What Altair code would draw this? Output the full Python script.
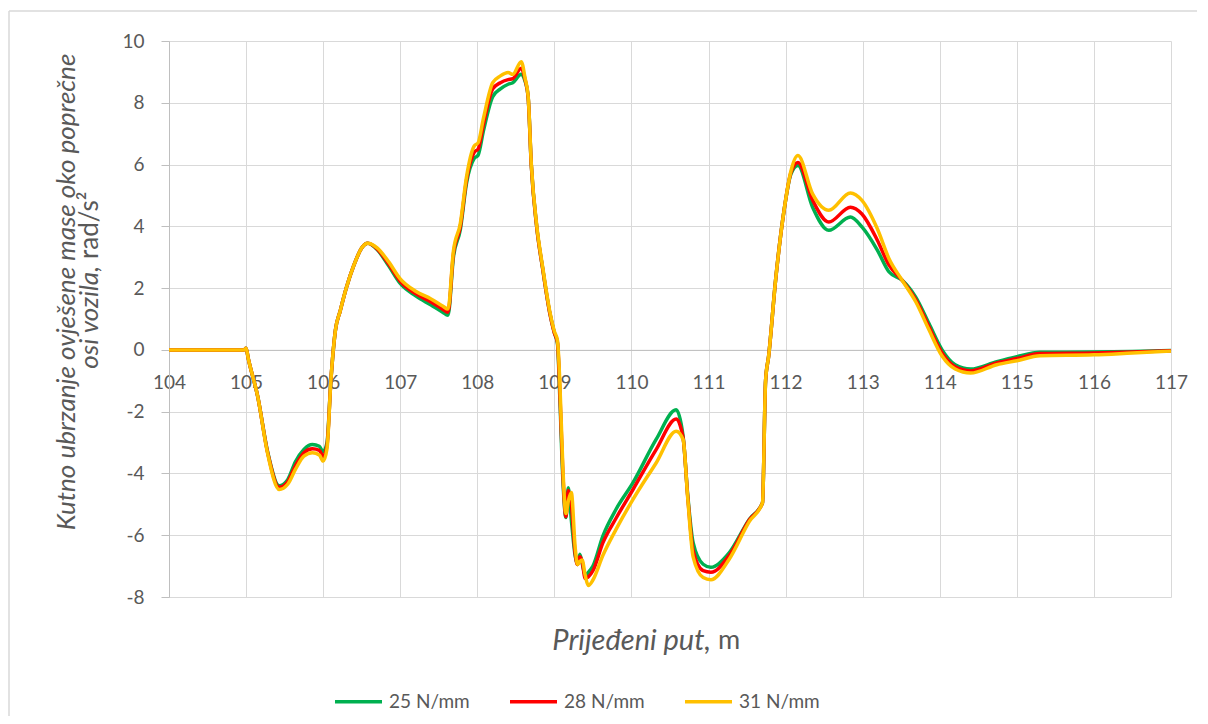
import altair as alt
import pandas as pd

# Prijeđeni put (m)
X = [104, 104.97, 105.0, 105.03, 105.15, 105.28, 105.43, 105.54, 105.64, 105.75, 105.86,
     105.95, 106.0, 106.05, 106.1, 106.16, 106.22, 106.3, 106.4, 106.5, 106.58,
     106.7, 106.85, 107.0, 107.2, 107.4, 107.55, 107.62, 107.69, 107.78, 107.86,
     107.96, 108.01, 108.08, 108.2, 108.3, 108.4, 108.46, 108.57, 108.62, 108.66,
     108.7, 108.77, 108.85, 108.94, 109.0, 109.04, 109.07, 109.11, 109.15, 109.18,
     109.22, 109.27, 109.3, 109.33, 109.36, 109.4, 109.44, 109.5, 109.63, 109.8,
     110.02, 110.32, 110.58, 110.67, 110.73, 110.8, 110.93, 111.03, 111.27, 111.53,
     111.7, 111.74, 111.78, 111.87, 111.98, 112.07, 112.16, 112.35, 112.56, 112.84,
     112.99, 113.19, 113.34, 113.51, 113.69, 113.86, 114.03, 114.2, 114.4, 114.74,
     115.0, 115.3, 116.0, 116.5, 117.0]

S25 = [0, 0, 0.05, -0.3, -1.5, -3.3, -4.4, -4.2, -3.62, -3.22, -3.06,
       -3.12, -3.3, -3.0, -1.0, 0.65, 1.25, 2.0, 2.75, 3.3, 3.45,
       3.25, 2.72, 2.15, 1.75, 1.45, 1.22, 1.12, 3.0, 3.9, 5.4,
       6.2, 6.3, 7.1, 8.2, 8.45, 8.6, 8.65, 8.92, 8.7, 8.17,
       6.0, 4.0, 2.6, 1.2, 0.55, 0.2, -1.5, -4.2, -5.43, -4.46,
       -5.5, -6.67, -6.95, -6.62, -6.9, -7.3, -7.2, -7.0, -6.02, -5.16,
       -4.3, -2.9, -1.94, -2.8, -4.7, -6.24, -6.94, -7.04, -6.56, -5.48,
       -4.95, -1.0, -0.2, 2.26, 4.52, 5.7, 5.97, 4.62, 3.87, 4.3,
       3.98, 3.23, 2.53, 2.26, 1.7, 0.85, 0.0, -0.48, -0.62, -0.38,
       -0.22, -0.08, -0.07, -0.05, -0.02]

S28 = [0, 0, 0.05, -0.3, -1.5, -3.33, -4.45, -4.27, -3.75, -3.33, -3.2,
       -3.25, -3.45, -3.1, -1.0, 0.65, 1.25, 2.0, 2.75, 3.3, 3.45,
       3.27, 2.78, 2.22, 1.82, 1.55, 1.32, 1.22, 3.1, 4.0, 5.5,
       6.4, 6.5, 7.3, 8.45, 8.65, 8.75, 8.78, 9.12, 8.75, 8.17,
       6.0, 4.0, 2.6, 1.2, 0.55, 0.25, -1.3, -4.0, -5.4, -4.55,
       -5.0, -6.6, -6.95, -6.7, -6.85, -7.4, -7.35, -7.15, -6.24, -5.45,
       -4.52, -3.23, -2.24, -2.85, -4.75, -6.5, -7.15, -7.2, -6.65, -5.5,
       -4.95, -1.0, -0.2, 2.26, 4.52, 5.75, 6.07, 4.85, 4.14, 4.62,
       4.4, 3.55, 2.75, 2.26, 1.62, 0.75, -0.1, -0.55, -0.68, -0.42,
       -0.28, -0.12, -0.1, -0.07, -0.03]

S31 = [0, 0, 0.05, -0.3, -1.5, -3.36, -4.52, -4.35, -3.87, -3.44, -3.33,
       -3.4, -3.6, -3.2, -1.0, 0.65, 1.25, 2.0, 2.75, 3.3, 3.45,
       3.3, 2.85, 2.3, 1.9, 1.65, 1.42, 1.32, 3.2, 4.1, 5.6,
       6.6, 6.7, 7.5, 8.65, 8.87, 8.98, 8.92, 9.33, 8.8, 8.2,
       6.05, 4.05, 2.65, 1.25, 0.6, 0.3, -1.0, -3.8, -5.3, -4.9,
       -4.62, -6.4, -6.95, -6.85, -6.8, -7.3, -7.63, -7.45, -6.65, -5.81,
       -4.84, -3.66, -2.63, -2.9, -4.8, -6.7, -7.37, -7.44, -6.77, -5.55,
       -4.95, -1.0, -0.2, 2.26, 4.52, 5.8, 6.29, 5.05, 4.52, 5.08,
       4.84, 3.92, 2.96, 2.26, 1.55, 0.65, -0.2, -0.62, -0.75, -0.48,
       -0.35, -0.19, -0.16, -0.1, -0.04]

SERIES = ["25 N/mm", "28 N/mm", "31 N/mm"]
COLORS = ["#00B050", "#FF0000", "#FFC000"]
X_TICKS = list(range(104, 118))
Y_TICKS = list(range(-8, 11, 2))

rows = []
for name, ys in zip(SERIES, [S25, S28, S31]):
    for xv, yv in zip(X, ys):
        rows.append({"put": xv, "ubrzanje": yv, "serija": name})
df = pd.DataFrame(rows)

FONT = "Lato"
TXT = "#595959"
GRID = "#D9D9D9"
AXIS = "#BFBFBF"

W, H = 1002, 556
PAD = {"left": 161, "top": 33, "right": 29, "bottom": 119}
ZERO_OFFSET = -(H * 8 / 18)

lines = alt.Chart(df).mark_line(strokeWidth=3.5, interpolate="monotone").encode(
    x=alt.X("put:Q",
            scale=alt.Scale(domain=[104, 117], nice=False, zero=False),
            axis=alt.Axis(values=X_TICKS, title=None, offset=ZERO_OFFSET,
                          labelExpr="'' + datum.value",
                          domain=True, domainColor=AXIS, domainWidth=1,
                          ticks=False, tickSize=0, labelPadding=24,
                          labelFlush=False, labelOverlap=False, labelBound=False,
                          grid=True, gridColor=GRID, gridWidth=1,
                          labelFontSize=19, labelColor=TXT, labelFont=FONT, zindex=0)),
    y=alt.Y("ubrzanje:Q",
            scale=alt.Scale(domain=[-8, 10], nice=False),
            axis=alt.Axis(values=Y_TICKS, title=None,
                          labelExpr="'' + datum.value",
                          domain=True, domainColor=AXIS, domainWidth=1,
                          ticks=True, tickColor=AXIS, tickSize=8, labelPadding=17,
                          grid=True, gridColor=GRID, gridWidth=1,
                          labelFontSize=19, labelColor=TXT, labelFont=FONT, zindex=0)),
    color=alt.Color("serija:N",
                    scale=alt.Scale(domain=SERIES, range=COLORS),
                    legend=alt.Legend(title=None, orient="none", legendX=164, legendY=635,
                                      direction="horizontal", symbolType="stroke",
                                      symbolSize=2209, symbolStrokeWidth=3.5,
                                      labelFont=FONT, labelFontSize=19, labelColor=TXT,
                                      labelOffset=5, columnPadding=33)),
)


def txt(text, x, y, italic=False, angle=0, align="center", size=26):
    return alt.Chart(pd.DataFrame({"t": [text]})).mark_text(
        font=FONT, fontSize=size, fontStyle="italic" if italic else "normal",
        color=TXT, angle=angle, align=align, baseline="middle"
    ).encode(text="t:N", x=alt.value(x), y=alt.value(y))


one = pd.DataFrame({"a": [0]})
right_edge = W + PAD["right"] - 3
bottom_edge = H + PAD["bottom"]
border_top = alt.Chart(one).mark_rule(color=GRID, strokeWidth=1.5).encode(
    x=alt.value(-160), x2=alt.value(right_edge), y=alt.value(-30))
border_left = alt.Chart(one).mark_rule(color=GRID, strokeWidth=1.5).encode(
    x=alt.value(-160), y=alt.value(-30), y2=alt.value(bottom_edge))

titles = [
    txt("Prijeđeni put,", 542, 600, italic=True, align="right", size=29),
    txt("m", 549, 600, align="left", size=27),
    txt("Kutno ubrzanje ovješene mase oko poprečne", -102, 251, italic=True, angle=270),
    txt("osi vozila,", -79, 225, italic=True, angle=270, align="right"),
    txt("rad/s²", -79, 218, angle=270, align="left"),
]

chart = alt.layer(border_top, border_left, lines, *titles).properties(
    width=W, height=H,
    autosize=alt.AutoSizeParams(type="none"),
    padding=PAD,
).configure_view(stroke=None)

chart.save("out.html", embed_options={"renderer": "svg", "actions": False})
